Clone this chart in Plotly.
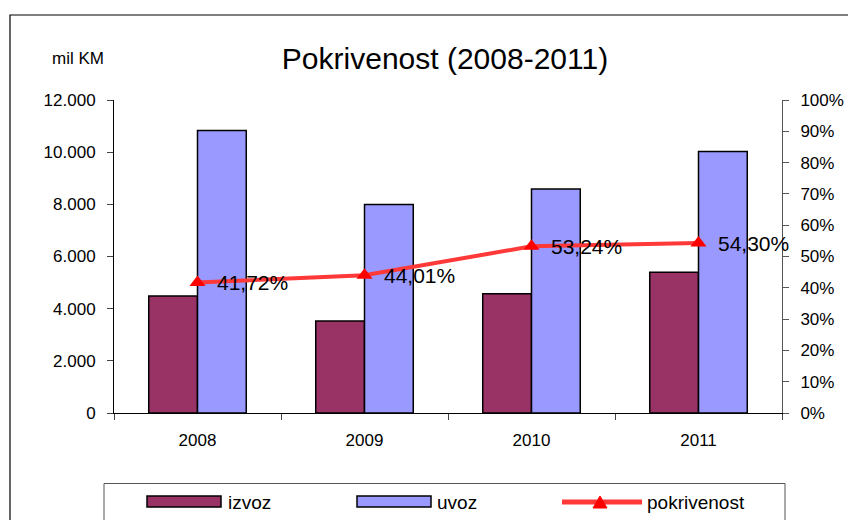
import plotly.graph_objects as go

# ---- data ----
years = ["2008", "2009", "2010", "2011"]
izvoz = [4490, 3530, 4570, 5400]
uvoz = [10830, 7990, 8590, 10030]
pokrivenost = [0.4172, 0.4401, 0.5324, 0.5430]
pokrivenost_labels = ["41,72%", "44,01%", "53,24%", "54,30%"]
y_tickvals = [0, 2000, 4000, 6000, 8000, 10000, 12000]
y_ticktext = ["0", "2.000", "4.000", "6.000", "8.000", "10.000", "12.000"]
y2_tickvals = [i / 10 for i in range(11)]
y2_ticktext = [f"{i*10}%" for i in range(11)]

FONT = "Liberation Sans, Arial, sans-serif"
W, H = 848, 520
L, R, T, B = 114, 66, 100, 107
PW, PH = W - L - R, H - T - B


def px(x):
    return (x - L) / PW


def py(y):
    return (H - B - y) / PH


fig = go.Figure()
fig.add_trace(go.Bar(x=years, y=izvoz, name="izvoz",
                     marker=dict(color="#993366", line=dict(color="black", width=1.5)),
                     showlegend=False))
fig.add_trace(go.Bar(x=years, y=uvoz, name="uvoz",
                     marker=dict(color="#9999FF", line=dict(color="black", width=1.5)),
                     showlegend=False))
fig.add_trace(go.Scatter(x=years, y=pokrivenost, name="pokrivenost", yaxis="y2",
                         mode="lines+markers",
                         line=dict(color="#FF3838", width=4),
                         marker=dict(symbol="triangle-up", size=14, color="#FF0000"),
                         showlegend=False))

annotations = []
for i, (v, lab) in enumerate(zip(pokrivenost, pokrivenost_labels)):
    annotations.append(dict(x=i, y=v, xref="x", yref="y2", text=lab, showarrow=False,
                            xanchor="left", yanchor="middle", xshift=17,
                            font=dict(family=FONT, size=21, color="black")))

annotations.append(dict(x=px(78), y=py(58), xref="paper", yref="paper", text="mil KM",
                        showarrow=False, xanchor="center", yanchor="middle",
                        font=dict(family=FONT, size=17, color="black")))

# legend texts
for txt, x in [("izvoz", 226), ("uvoz", 435), ("pokrivenost", 645)]:
    annotations.append(dict(x=px(x), y=py(502), xref="paper", yref="paper", text=txt,
                            showarrow=False, xanchor="left", yanchor="middle",
                            font=dict(family=FONT, size=19, color="black")))

shapes = [
    # outer chart border
    dict(type="rect", xref="paper", yref="paper", x0=px(10), x1=px(880), y0=py(15), y1=py(560),
         line=dict(color="black", width=1.2), fillcolor="rgba(0,0,0,0)", layer="below"),
    # legend box
    dict(type="rect", xref="paper", yref="paper", x0=px(104), x1=px(785), y0=py(483.5), y1=py(560),
         line=dict(color="#555555", width=1), fillcolor="rgba(0,0,0,0)"),
    dict(type="rect", xref="paper", yref="paper", x0=px(147), x1=px(221), y0=py(496), y1=py(507),
         line=dict(color="black", width=1.5), fillcolor="#993366"),
    dict(type="rect", xref="paper", yref="paper", x0=px(357), x1=px(431), y0=py(496), y1=py(507),
         line=dict(color="black", width=1.5), fillcolor="#9999FF"),
    dict(type="line", xref="paper", yref="paper", x0=px(562), x1=px(642), y0=py(502), y1=py(502),
         line=dict(color="#FF3838", width=5)),
    dict(type="path", xref="paper", yref="paper",
         path=f"M {px(593)},{py(508)} L {px(607)},{py(508)} L {px(600)},{py(496)} Z",
         line=dict(color="#FF0000", width=1), fillcolor="#FF0000"),
]

fig.update_layout(
    width=W, height=H,
    margin=dict(l=L, r=R, t=T, b=B, pad=0, autoexpand=False),
    paper_bgcolor="white", plot_bgcolor="white",
    barmode="group", bargap=0.416, bargroupgap=0,
    font=dict(family=FONT, size=17, color="black"),
    title=dict(text="Pokrivenost (2008-2011)", x=445 / W, xref="container", xanchor="center",
               y=1 - 58 / H, yref="container", yanchor="middle", automargin=False,
               font=dict(family=FONT, size=30, color="black")),
    xaxis=dict(type="category", range=[-0.5, 3.5], showline=True, linecolor="black", linewidth=1,
               ticks="outside", ticklen=6, tickangle=0, automargin=False,
               tickcolor="#444", tickson="boundaries", showgrid=False,
               tickfont=dict(family=FONT, size=17, color="black"), ticklabelstandoff=12),
    yaxis=dict(range=[0, 12000], tickvals=y_tickvals, ticktext=y_ticktext, automargin=False,
               showline=True, linecolor="black", linewidth=1, ticks="outside", ticklen=6,
               tickcolor="#444", showgrid=False, zeroline=False,
               tickfont=dict(family=FONT, size=17, color="black"), ticklabelstandoff=8),
    yaxis2=dict(range=[0, 1], tickvals=y2_tickvals, ticktext=y2_ticktext, overlaying="y",
                side="right", showline=True, linecolor="#555", linewidth=1, ticks="outside",
                ticklen=6, tickcolor="#555", showgrid=False, zeroline=False, automargin=False,
                tickfont=dict(family=FONT, size=17, color="black"), ticklabelstandoff=8),
    annotations=annotations,
    shapes=shapes,
)

fig.write_html("out.html", config={"displayModeBar": False},
               post_script="document.body.style.margin='0';")
